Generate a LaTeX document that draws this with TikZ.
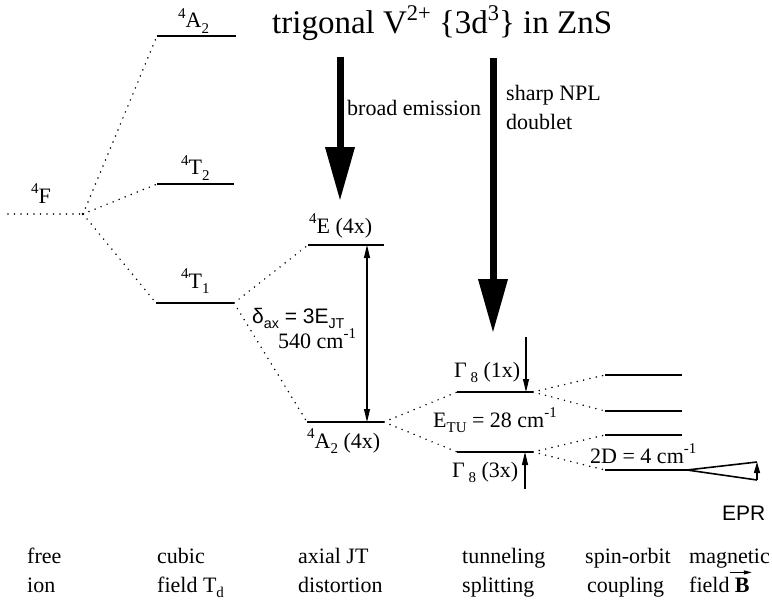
\documentclass[tikz,border=0pt]{standalone}
\usepackage{fontspec}
\setmainfont{Liberation Serif}
\setsansfont{Liberation Sans}
\usetikzlibrary{arrows.meta}
\newcommand\sP[1]{\raisebox{0.42em}{\fontsize{0.68em}{0.8em}\selectfont #1}}
\newcommand\sB[1]{\raisebox{-0.27em}{\fontsize{0.68em}{0.8em}\selectfont #1}}
\begin{document}
\begin{tikzpicture}[x=1pt,y=-1pt,
  level/.style={line width=2.8pt},
  conn/.style={line width=1.7pt, line cap=round, dash pattern=on 0pt off 6.5pt},
  lbl/.style={font=\fontsize{22}{26}\selectfont, inner sep=0pt, anchor=base west},
  slbl/.style={font=\sffamily\fontsize{21}{25}\selectfont, inner sep=0pt, anchor=base west},
  bigarrow/.style={line width=7pt, -{Triangle[width=28pt,length=54pt]}},
  thinarrow/.style={line width=1.1pt, -{Triangle[width=6pt,length=13pt]}},
  thinboth/.style={line width=1.1pt, {Triangle[width=6pt,length=13pt]}-{Triangle[width=6pt,length=13pt]}}
]
\path[use as bounding box, fill=white] (0,0) rectangle (772,602);

% coordinates of levels
\coordinate (F0) at (8,214);   \coordinate (F1) at (83,214);
\coordinate (cA2L) at (157,36);  \coordinate (cA2R) at (236,36);
\coordinate (cT2L) at (157,184); \coordinate (cT2R) at (234,184);
\coordinate (cT1L) at (156,303); \coordinate (cT1R) at (234,303);
\coordinate (EL) at (308,245);   \coordinate (ER) at (384,245);
\coordinate (AL) at (307,422);   \coordinate (AR) at (384,422);
\coordinate (G1L) at (457,392);  \coordinate (G1R) at (533,392);
\coordinate (G3L) at (457,452);  \coordinate (G3R) at (533,452);
\coordinate (S1L) at (605,375);  \coordinate (S1R) at (682,375);
\coordinate (S2L) at (605,411);  \coordinate (S2R) at (682,411);
\coordinate (S3L) at (605,435);  \coordinate (S3R) at (682,435);
\coordinate (S4L) at (605,470);  \coordinate (S4R) at (687,470);
\coordinate (Zt) at (757,462);   \coordinate (Zb) at (757,480);

% levels
\foreach \a in {cA2,cT2,cT1,E,A,G1,G3,S1,S2,S3,S4}
  \draw[level] (\a L) -- (\a R);

% dotted connectors
\draw[conn] (F0) -- (F1);
\draw[conn] (F1) -- (cA2L);
\draw[conn] (F1) -- (cT2L);
\draw[conn] (F1) -- (cT1L);
\draw[conn] (cT1R) -- (EL);
\draw[conn] (cT1R) -- (AL);
\draw[conn] (AR) -- (G1L);
\draw[conn] (AR) -- (G3L);
\draw[conn] (G1R) -- (S1L);
\draw[conn] (G1R) -- (S2L);
\draw[conn] (G3R) -- (S3L);
\draw[conn] (G3R) -- (S4L);
\fill (F1) circle (1.4pt);

% Zeeman splitting
\draw[line width=1.6pt] (Zt) -- (S4R) -- (Zb);
\draw[line width=1.3pt, -{Triangle[width=6pt,length=11pt]}] (Zb) -- (Zt);

% big arrows
\coordinate (be0) at (340,57);  \coordinate (be1) at (340,201);
\coordinate (sn0) at (493,58);  \coordinate (sn1) at (493,333);
\draw[bigarrow] (be0) -- (be1);
\draw[bigarrow] (sn0) -- (sn1);

% JT double arrow
\coordinate (jt0) at (367,245); \coordinate (jt1) at (367,422);
\draw[thinboth] (jt0) -- (jt1);

% small tunneling arrows
\coordinate (ga0) at (526,337); \coordinate (ga1) at (526,392);
\coordinate (gb0) at (525,489); \coordinate (gb1) at (525,452);
\draw[thinarrow] (ga0) -- (ga1);
\draw[thinarrow] (gb0) -- (gb1);

% title
\node[lbl, font=\fontsize{33}{38}\selectfont] (title) at (272,34)
  {trigonal V\sP{2+} \{3d\sP{3}\} in ZnS};

% level labels
\node[lbl] (l4F) at (31,203) {\sP{4}F};
\node[lbl] (lA2) at (178,28) {\sP{4}A\sB{2}};
\node[lbl] (lT2) at (181,175) {\sP{4}T\sB{2}};
\node[lbl] (lT1) at (181,288) {\sP{4}T\sB{1}};
\node[lbl] (lE) at (309,233) {\sP{4}E (4x)};
\node[lbl] (lA) at (307,448) {\sP{4}A\sB{2} (4x)};
\node[lbl] (lG1) at (454,377) {Γ\,\sB{8} (1x)};
\node[lbl] (lG3) at (452,477) {Γ\,\sB{8} (3x)};
\node[lbl] (lETU) at (433,427) {E\sB{TU} = 28 cm\sP{-1}};
\node[slbl] (ldax) at (252,323) {δ\sB{ax} = 3E\sB{JT}};
\node[lbl] (l540) at (278,348) {540 cm\sP{-1}};
\node[lbl] (l2D) at (590,463) {2D = 4 cm\sP{-1}};
\node[lbl] (lbe) at (347,115) {broad emission};
\node[lbl] (lsn1) at (506,100) {sharp NPL};
\node[lbl] (lsn2) at (506,130) {doublet};
\node[slbl] (lEPR) at (722,520) {EPR};

% bottom labels
\node[lbl] (b1a) at (27,563) {free};
\node[lbl] (b1b) at (27,592) {ion};
\node[lbl] (b2a) at (157,563) {cubic};
\node[lbl] (b2b) at (157,592) {field T\sB{d}};
\node[lbl] (b3a) at (298,563) {axial JT};
\node[lbl] (b3b) at (298,592) {distortion};
\node[lbl] (b4a) at (462,563) {tunneling};
\node[lbl] (b4b) at (462,592) {splitting};
\node[lbl] (b5a) at (585,563) {spin-orbit};
\node[lbl] (b5b) at (587,592) {coupling};
\node[lbl] (b6a) at (689,563) {magnetic};
\node[lbl] (b6b) at (689,592) {field};
\node[lbl] (Bv) at ([xshift=5pt]b6b.base east) {\textbf{B}};
\draw[line width=1pt, -{Triangle[width=4pt,length=8pt]}] ([xshift=-5pt,yshift=5pt]Bv.north west) -- ([xshift=2pt,yshift=5pt]Bv.north east);
\end{tikzpicture}
\end{document}
